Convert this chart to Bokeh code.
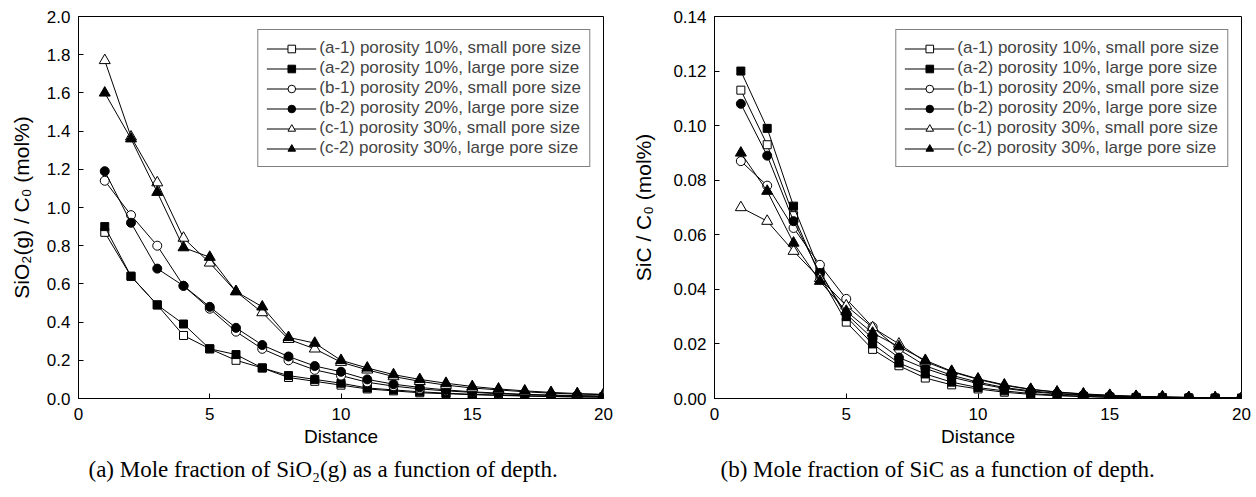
from bokeh.plotting import figure
from bokeh.layouts import row
from bokeh.models import Range1d, FixedTicker, PrintfTickFormatter, Title, Legend
from bokeh.embed import file_html
from bokeh.resources import INLINE

distance = list(range(1, 21))

labels = [
    "(a-1) porosity 10%, small pore size",
    "(a-2) porosity 10%, large pore size",
    "(b-1) porosity 20%, small pore size",
    "(b-2) porosity 20%, large pore size",
    "(c-1) porosity 30%, small pore size",
    "(c-2) porosity 30%, large pore size",
]

# (a) SiO2(g) / C0
sio2_a1 = [0.87, 0.64, 0.49, 0.33, 0.26, 0.20, 0.16, 0.11, 0.09, 0.07, 0.05, 0.04, 0.03, 0.025, 0.02, 0.016, 0.013, 0.010, 0.008, 0.007]
sio2_a2 = [0.90, 0.64, 0.49, 0.39, 0.26, 0.23, 0.16, 0.12, 0.10, 0.08, 0.055, 0.045, 0.035, 0.028, 0.022, 0.018, 0.014, 0.011, 0.009, 0.008]
sio2_b1 = [1.14, 0.96, 0.80, 0.59, 0.47, 0.35, 0.26, 0.20, 0.15, 0.12, 0.085, 0.065, 0.05, 0.04, 0.032, 0.025, 0.02, 0.016, 0.013, 0.011]
sio2_b2 = [1.19, 0.92, 0.68, 0.59, 0.48, 0.37, 0.28, 0.22, 0.17, 0.14, 0.10, 0.075, 0.058, 0.045, 0.035, 0.028, 0.022, 0.018, 0.015, 0.013]
sio2_c1 = [1.77, 1.37, 1.13, 0.84, 0.71, 0.56, 0.45, 0.31, 0.26, 0.19, 0.15, 0.115, 0.09, 0.07, 0.055, 0.045, 0.035, 0.028, 0.023, 0.020]
sio2_c2 = [1.60, 1.36, 1.08, 0.79, 0.74, 0.56, 0.48, 0.32, 0.29, 0.20, 0.16, 0.125, 0.10, 0.08, 0.063, 0.05, 0.04, 0.032, 0.026, 0.022]

# (b) SiC / C0
sic_a1 = [0.113, 0.093, 0.067, 0.045, 0.028, 0.018, 0.012, 0.0075, 0.005, 0.0035, 0.0023, 0.0015, 0.0010, 0.0007, 0.0004, 0.0003, 0.0002, 0.00015, 0.0001, 0.0001]
sic_a2 = [0.120, 0.099, 0.0705, 0.0466, 0.030, 0.020, 0.013, 0.009, 0.006, 0.004, 0.0028, 0.0018, 0.0012, 0.0008, 0.0005, 0.0004, 0.0003, 0.0002, 0.00015, 0.0001]
sic_b1 = [0.087, 0.078, 0.0625, 0.049, 0.0365, 0.0262, 0.018, 0.012, 0.0085, 0.006, 0.004, 0.0028, 0.0019, 0.0013, 0.0009, 0.0006, 0.0004, 0.0003, 0.0002, 0.00015]
sic_b2 = [0.108, 0.089, 0.065, 0.046, 0.031, 0.022, 0.015, 0.011, 0.0078, 0.0055, 0.0037, 0.0025, 0.0017, 0.0011, 0.0008, 0.0005, 0.0004, 0.0003, 0.0002, 0.00015]
sic_c1 = [0.070, 0.065, 0.054, 0.044, 0.034, 0.026, 0.020, 0.0135, 0.0098, 0.007, 0.0048, 0.0033, 0.0023, 0.0016, 0.0011, 0.0008, 0.0006, 0.0004, 0.0003, 0.0002]
sic_c2 = [0.090, 0.076, 0.057, 0.043, 0.032, 0.024, 0.019, 0.014, 0.010, 0.0072, 0.005, 0.0034, 0.0024, 0.0017, 0.0012, 0.0008, 0.0006, 0.0004, 0.0003, 0.0002]

markers = ["square", "square", "circle", "circle", "triangle", "triangle"]
fills = ["white", "black", "white", "black", "white", "black"]
msizes = [8, 8, 9, 9, 11, 11]

SANS = "Liberation Sans"
SERIF = "Liberation Serif"


def make_fig(series, ylabel, ymax, yticks, yfmt, caption, frame_w, bl, br,
             cap_offset, ylab_standoff):
    p = figure(output_backend="svg", toolbar_location=None,
               frame_width=frame_w, frame_height=382,
               x_range=Range1d(0, 20), y_range=Range1d(0, ymax),
               min_border_left=bl, min_border_right=br,
               min_border_top=16, min_border_bottom=99)
    p.grid.visible = False
    p.outline_line_color = "black"
    p.outline_line_width = 1
    p.background_fill_color = "white"
    p.border_fill_color = "white"

    items = []
    for ys, lab, mk, fc, ms in zip(series, labels, markers, fills, msizes):
        ln = p.line(distance, ys, line_color="black", line_width=1)
        sc = p.scatter(distance, ys, marker=mk, size=ms, line_color="black",
                       fill_color=fc, line_width=1)
        items.append((lab, [ln, sc]))

    legend = Legend(items=items, location="top_right")
    legend.margin = 13
    legend.padding = 8
    legend.spacing = 0
    legend.label_height = 19
    legend.glyph_height = 19
    legend.glyph_width = 50
    legend.label_standoff = 3
    legend.label_text_font = SANS
    legend.label_text_font_size = "17px"
    legend.border_line_color = "black"
    legend.border_line_width = 1
    legend.background_fill_alpha = 1
    p.add_layout(legend, "center")

    for ax in (p.xaxis[0], p.yaxis[0]):
        ax.major_tick_in = 5
        ax.major_tick_out = 0
        ax.minor_tick_in = 0
        ax.minor_tick_out = 0
        ax.axis_line_color = "black"
        ax.major_tick_line_color = "black"
        ax.major_label_text_font = SANS
        ax.major_label_text_font_size = "17px"
        ax.major_label_text_color = "black"
        ax.axis_label_text_font = SANS
        ax.axis_label_text_font_style = "normal"
        ax.axis_label_text_color = "black"

    p.xaxis.ticker = FixedTicker(ticks=[0, 5, 10, 15, 20])
    p.xaxis.axis_label = "Distance"
    p.xaxis.axis_label_text_font_size = "19px"
    p.xaxis.axis_label_standoff = 3
    p.xaxis.major_label_standoff = 9
    p.yaxis.ticker = FixedTicker(ticks=yticks)
    p.yaxis.formatter = PrintfTickFormatter(format=yfmt)
    p.yaxis.axis_label = ylabel
    p.yaxis.axis_label_text_font_size = "21px"
    p.yaxis.axis_label_standoff = ylab_standoff
    p.yaxis.major_label_standoff = 8

    t = Title(text=caption, align="left", offset=cap_offset,
              text_font=SERIF, text_font_size="23px",
              text_font_style="normal", text_color="black")
    p.add_layout(t, "below")
    return p


p1 = make_fig([sio2_a1, sio2_a2, sio2_b1, sio2_b2, sio2_c1, sio2_c2],
              "SiO\u2082(g) / C\u2080 (mol%)", 2.0,
              [0.0, 0.2, 0.4, 0.6, 0.8, 1.0, 1.2, 1.4, 1.6, 1.8, 2.0], "%.1f",
              "(a) Mole fraction of SiO\u2082(g) as a function of depth.",
              525, 78, 25, 10, 11)

p2 = make_fig([sic_a1, sic_a2, sic_b1, sic_b2, sic_c1, sic_c2],
              "SiC / C\u2080 (mol%)", 0.14,
              [0.0, 0.02, 0.04, 0.06, 0.08, 0.10, 0.12, 0.14], "%.2f",
              "(b) Mole fraction of SiC as a function of depth.",
              527, 86, 15, 6, 15)

layout = row(p1, p2)
open("out.html", "w").write(file_html(layout, INLINE))
